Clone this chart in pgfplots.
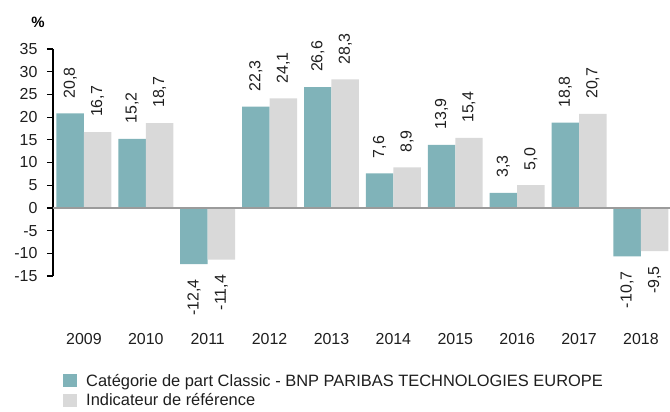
\documentclass[border=0pt]{standalone}
\usepackage{pgfplots}
\pgfplotsset{compat=1.18}
\usepackage{fontspec}
\setmainfont{Liberation Sans}
\definecolor{tealbar}{RGB}{128,179,185}
\definecolor{greybar}{RGB}{217,217,217}
\definecolor{zeroline}{RGB}{155,155,155}
\definecolor{txt}{RGB}{30,30,30}
\pgfplotsset{
  sqlegend/.style={legend image code/.code={\fill[##1] (0bp,-6bp) rectangle (14bp,7bp);}},
  vlabel/.style={draw=none, mark=none, forget plot, nodes near coords, point meta=y,
    nodes near coords={\pgfmathprintnumber[use comma, fixed, fixed zerofill, precision=1]{\pgfplotspointmeta}},
    every node near coord/.style={rotate=90, anchor=#1, inner xsep=15bp, inner ysep=0pt,
      font=\fontsize{16}{19}\selectfont, text=txt}},
}
\begin{document}
\begin{tikzpicture}
\path[use as bounding box] (-53bp,-136bp) rectangle (617bp,276bp);
\begin{axis}[
  scale only axis, width=617bp, height=227bp,
  xmin=-0.5, xmax=9.47, ymin=-15, ymax=35,
  axis lines*=left,
  x axis line style={draw=none},
  y axis line style={black, line width=1.2pt},
  xtick={0,...,9},
  xticklabels={2009,2010,2011,2012,2013,2014,2015,2016,2017,2018},
  xtick style={draw=none},
  ytick={-15,-10,...,35},
  ytick style={black, line width=1.2pt},
  tick align=outside, major tick length=6bp,
  yticklabel style={xshift=-6bp},
  xticklabel style={yshift=-48bp},
  ticklabel style={font=\fontsize{16}{19}\selectfont, text=txt},
  /pgf/number format/assume math mode=true,
  clip=false,
  legend style={at={(0,0)}, anchor=north west, xshift=10bp, yshift=-96bp,
    draw=none, fill=none, font=\fontsize{16.5}{19}\selectfont, text=txt,
    row sep=2bp, inner sep=0pt,
    /tikz/every odd column/.style={column sep=7bp}},
  legend cell align=left,
]
\addplot[ybar, bar width=0.444, bar shift=-0.222, fill=tealbar, draw=none, sqlegend]
  coordinates {(0,20.8) (1,15.2) (2,-12.4) (3,22.3) (4,26.6) (5,7.6) (6,13.9) (7,3.3) (8,18.8) (9,-10.7)};
\addlegendentry{Catégorie de part Classic - BNP PARIBAS TECHNOLOGIES EUROPE}
\addplot[ybar, bar width=0.444, bar shift=0.222, fill=greybar, draw=none, sqlegend]
  coordinates {(0,16.7) (1,18.7) (2,-11.4) (3,24.1) (4,28.3) (5,8.9) (6,15.4) (7,5.0) (8,20.7) (9,-9.5)};
\addlegendentry{Indicateur de référence}
% value labels
\addplot[vlabel=west] coordinates {(-0.222,20.8) (0.778,15.2) (2.778,22.3) (3.778,26.6) (4.778,7.6) (5.778,13.9) (6.778,3.3) (7.778,18.8)};
\addplot[vlabel=east] coordinates {(1.778,-12.4) (8.778,-10.7)};
\addplot[vlabel=west] coordinates {(0.222,16.7) (1.222,18.7) (3.222,24.1) (4.222,28.3) (5.222,8.9) (6.222,15.4) (7.222,5.0) (8.222,20.7)};
\addplot[vlabel=east] coordinates {(2.222,-11.4) (9.222,-9.5)};
\draw[zeroline, line width=1.5pt] (axis cs:-0.5,0) -- (axis cs:9.47,0);
\end{axis}
\node[font=\bfseries\fontsize{15}{18}\selectfont, text=black] at (-15bp,254bp) {\%};
\end{tikzpicture}
\end{document}
